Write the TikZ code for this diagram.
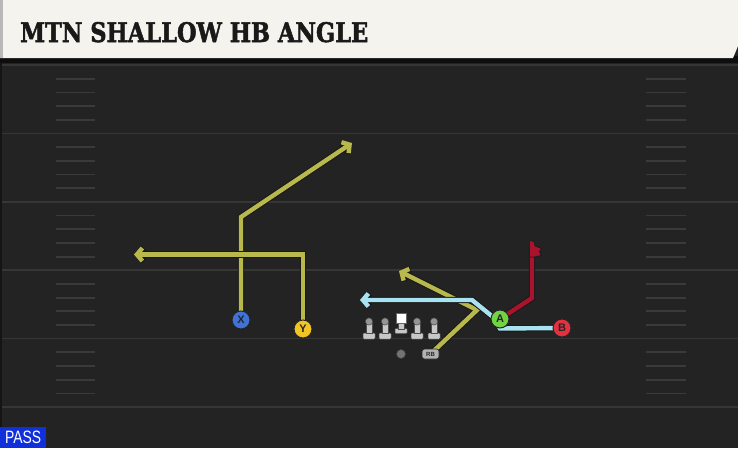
\documentclass[tikz,border=0pt]{standalone}
\usepackage{fontspec}
\setsansfont{Liberation Sans}
\newfontfamily\headfont[FakeBold=2]{DejaVu Serif Bold}
\usetikzlibrary{arrows.meta}
\definecolor{fieldbg}{HTML}{232323}
\definecolor{yardln}{HTML}{363636}
\definecolor{hashc}{HTML}{3A3A3A}
\definecolor{cream}{HTML}{F5F3EE}
\definecolor{olive}{HTML}{B8B84C}
\definecolor{iceblue}{HTML}{A9E3F2}
\definecolor{crimson}{HTML}{A8142E}
\definecolor{xblue}{HTML}{3F73D9}
\definecolor{yyellow}{HTML}{F2C424}
\definecolor{agreen}{HTML}{72D443}
\definecolor{bred}{HTML}{E4313F}
\definecolor{passblue}{HTML}{1030DC}
\definecolor{linegray}{HTML}{C8C8C8}
\definecolor{headgray}{HTML}{959595}
\pgfdeclarelayer{fieldlayer}
\pgfdeclarelayer{routelayer}
\pgfsetlayers{fieldlayer,routelayer,main}
\begin{document}
\begin{tikzpicture}[x=1pt,y=-1pt,
  route/.style={draw=#1, line width=4.4pt, line join=miter, line cap=butt,
    preaction={draw=black!90, line width=6.4pt}},
  tip/.style={-{Straight Barb[length=5.5pt,width=13pt]}},
  player/.style={circle, draw=black!85, line width=1pt, fill=#1, minimum size=18pt,
    inner sep=0pt, font=\sffamily\bfseries\fontsize{11}{11}\selectfont, text=black!85},
  yard/.style={draw=yardln, line width=1.6pt},
  hash/.style={draw=hashc, line width=1.8pt},
  olbody/.style={fill=linegray, draw=black!70, line width=0.5pt}
]
\useasboundingbox (0,0) rectangle (738,448);
\begin{pgfonlayer}{fieldlayer}
\fill[fieldbg] (0,0) rectangle (738,448);
\fill[black!40!fieldbg] (0,58) rectangle (2,448);
\foreach \L in {65,133.4,201.8,270.2,338.6,407}{
  \draw[yard] (2,\L) -- (738,\L);
}
\foreach \L in {65,133.4,201.8,270.2,338.6}{
  \foreach \j in {1,2,3,4}{
    \draw[hash] (56,\L+13.7*\j) -- (95,\L+13.7*\j);
    \draw[hash] (646,\L+13.7*\j) -- (686,\L+13.7*\j);
  }
}
\fill[black!60!fieldbg] (0,56) rectangle (738,63);
\fill[cream] (0,0) -- (738,0) -- (738,46) -- (733,58) -- (0,58) -- cycle;
\fill[black!28] (0,0) rectangle (3,58);
\end{pgfonlayer}
\node[anchor=base west, inner sep=0pt, text=black!90] (title) at (20,42)
  {\resizebox{348pt}{20pt}{\headfont MTN SHALLOW HB ANGLE}};
\node[fill=passblue, anchor=south west, minimum width=46pt, minimum height=21pt,
  inner sep=0pt, text=white] (pass) at (0,448)
  {\resizebox{36pt}{12.5pt}{\sffamily PASS}};
% players
\node[player=xblue] (X) at (241,320) {X};
\node[player=yyellow] (Y) at (303,329) {Y};
\node[player=agreen] (A) at (500,319) {A};
\node[player=bred] (B) at (562,328) {B};
\node[circle, fill=black!55, draw=black!75, line width=0.5pt, minimum size=9pt, inner sep=0pt] (QB) at (401,354) {};
\node[rounded corners=2.5pt, fill=black!30, draw=black!85, line width=0.6pt, minimum width=17pt,
  minimum height=10pt, inner sep=0pt, text=black!85, font=\sffamily\bfseries\fontsize{6}{6}\selectfont] (RB) at (430.5,354) {RB};
% offensive line
\foreach \px in {369,385,417,434}{
  \fill[olbody, rounded corners=0.8pt] (\px-6,333) rectangle (\px+6,339);
  \fill[olbody] (\px-2.8,322) rectangle (\px+2.8,333.5);
  \fill[headgray, draw=black!70, line width=0.5pt] (\px,321.5) circle (3.6pt);
}
\fill[olbody, rounded corners=0.8pt] (395,328.5) rectangle (407,333.5);
\fill[olbody] (398.2,321) rectangle (403.8,329);
\node[fill=white, draw=black!60, line width=0.5pt, minimum size=10pt, inner sep=0pt] (C) at (401,318) {};
% route waypoints
\coordinate (x1) at (241,217);
\coordinate (x2) at (352,143);
\coordinate (y1) at (303,254.5);
\coordinate (y2) at (134,254.5);
\coordinate (r1) at (477,310);
\coordinate (r2) at (399,271);
\coordinate (b1) at (500,328.5);
\coordinate (b2) at (493,317);
\coordinate (b3) at (472,300);
\coordinate (b4) at (360,300);
\coordinate (a1) at (532,298);
\coordinate (a2) at (532,245);
\begin{pgfonlayer}{routelayer}
\draw[route=olive, tip] (X.center) -- (x1) -- (x2);
\draw[route=olive, tip] (Y.center) -- (y1) -- (y2);
\draw[route=olive, tip] (RB.center) -- (r1) -- (r2);
\draw[route=iceblue, tip] (B.center) -- (b1) -- (b2) -- (b3) -- (b4);
\draw[route=crimson] (A.center) -- (a1) -- (a2);
\fill[crimson, draw=black!90, line width=0.6pt] (529.6,240) -- (534,242) -- (535,246) -- (541.5,248.5)
  -- (539.5,251.5) -- (541,255.5) -- (534.4,257) -- (529.6,257) -- cycle;
\end{pgfonlayer}
\end{tikzpicture}
\end{document}
